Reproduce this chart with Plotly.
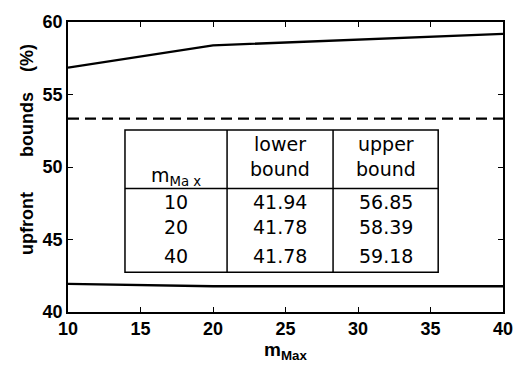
import plotly.graph_objects as go

m_max = [10, 20, 40]
lower_bound = [41.94, 41.78, 41.78]
upper_bound = [56.85, 58.39, 59.18]
reference_level = 53.33
x_ticks = [10, 15, 20, 25, 30, 35, 40]
y_ticks = [40, 45, 50, 55, 60]

fig = go.Figure()
fig.add_trace(go.Scatter(x=m_max, y=upper_bound, mode="lines",
                         line=dict(color="black", width=2.4), showlegend=False))
fig.add_trace(go.Scatter(x=m_max, y=lower_bound, mode="lines",
                         line=dict(color="black", width=2.4), showlegend=False))
fig.add_trace(go.Scatter(x=[min(m_max), max(m_max)], y=[reference_level]*2, mode="lines",
                         line=dict(color="black", width=2.2, dash="11px,6px"), showlegend=False))

# table in data coordinates
tx = [13.93, 20.97, 28.28, 35.53]
ty_top, ty_hdr, ty_bot = 52.55, 48.52, 42.75
lw = 1.5
fig.add_shape(type="rect", x0=tx[0], x1=tx[3], y0=ty_bot, y1=ty_top,
              line=dict(color="black", width=lw), fillcolor="white", layer="above")
fig.add_shape(type="line", x0=tx[0], x1=tx[3], y0=ty_hdr, y1=ty_hdr, line=dict(color="black", width=lw))
for xv in tx[1:3]:
    fig.add_shape(type="line", x0=xv, x1=xv, y0=ty_bot, y1=ty_top, line=dict(color="black", width=lw))

cx = [(tx[i] + tx[i+1]) / 2 for i in range(3)]
tfont = dict(family="DejaVu Sans", size=19, color="black")
ann = []
ann.append(dict(x=cx[0], y=49.35, text="m<sub>Ma x</sub>"))
ann.append(dict(x=cx[1], y=51.61, text="lower"))
ann.append(dict(x=cx[1], y=49.87, text="bound"))
ann.append(dict(x=cx[2], y=51.61, text="upper"))
ann.append(dict(x=cx[2], y=49.87, text="bound"))
row_y = [47.58, 45.84, 43.88]
for i in range(3):
    ann.append(dict(x=cx[0], y=row_y[i], text=str(m_max[i])))
    ann.append(dict(x=cx[1], y=row_y[i], text=f"{lower_bound[i]:.2f}"))
    ann.append(dict(x=cx[2], y=row_y[i], text=f"{upper_bound[i]:.2f}"))
for a in ann:
    fig.add_annotation(xref="x", yref="y", showarrow=False, font=tfont, **a)

nb = "\u00a0"
axfont = dict(family="Liberation Sans", size=18, color="black")
fig.update_layout(
    width=525, height=365,
    margin=dict(l=68, r=14, t=17, b=50),
    paper_bgcolor="white", plot_bgcolor="white",
    font=dict(color="black", family="Liberation Sans"),
    xaxis=dict(range=[10, 40], tickvals=x_ticks, ticktext=[f"<b>{v}</b>" for v in x_ticks],
               ticks="inside", ticklen=5, tickwidth=1, tickcolor="black",
               showline=True, linecolor="black", linewidth=1.5, mirror="ticks",
               showgrid=False, zeroline=False, tickfont=axfont,
               title=dict(text="<b>m<sub>Max</sub></b>",
                          font=dict(family="Liberation Sans", size=19, color="black"), standoff=0)),
    yaxis=dict(range=[40, 60], tickvals=y_ticks, ticktext=[f"<b>{v}</b>" for v in y_ticks],
               ticks="inside", ticklen=5, tickwidth=1, tickcolor="black",
               showline=True, linecolor="black", linewidth=1.5, mirror="ticks",
               showgrid=False, zeroline=False, tickfont=axfont,
               title=dict(text="<b>" + nb*7 + "upfront" + nb*7 + "bounds" + nb*4 + "(%)</b>",
                          font=dict(family="Liberation Sans", size=18, color="black"), standoff=4)),
)
fig.write_html("out.html")
